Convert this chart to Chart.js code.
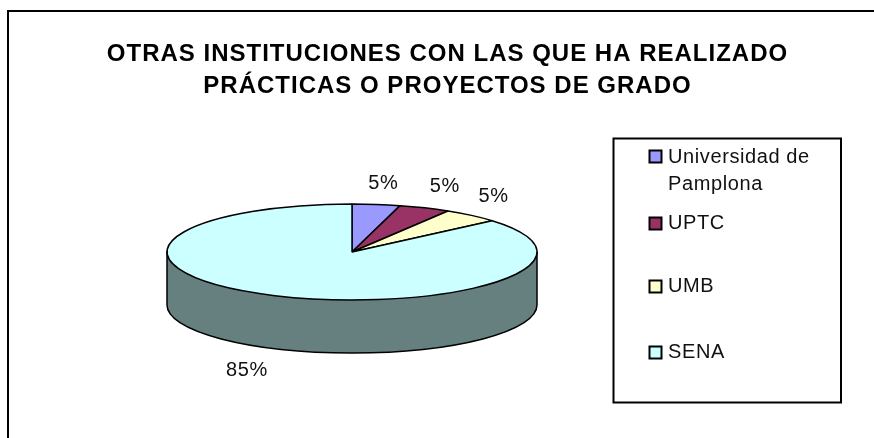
<!DOCTYPE html>
<html>
<head>
<meta charset="utf-8">
<script src="https://cdn.jsdelivr.net/npm/chart.js@4"></script>
<style>html,body{margin:0;padding:0;background:#fff}canvas{display:block}</style>
</head>
<body>
<canvas id="c" width="874" height="438"></canvas>
<script>
const titleLines = ['OTRAS INSTITUCIONES CON LAS QUE HA REALIZADO', 'PRÁCTICAS O PROYECTOS DE GRADO'];
const categories = ['Universidad de Pamplona', 'UPTC', 'UMB', 'SENA'];
const legendLines = [['Universidad de', 'Pamplona'], ['UPTC'], ['UMB'], ['SENA']];
const percentages = [5, 5, 5, 85];
const sliceColors = ['#9999FF', '#993366', '#FFFFCC', '#CCFFFF'];

const FONT = '"Liberation Sans", Arial, sans-serif';
const CX = 352, CY = 252, RX = 185, RY = 48, DEPTH = 53;
const WALL = '#668080';
const labelOffset = [[7, -21], [20, -21], [22, -19], [-28, 75]];
const legendBox = {x: 613.5, y: 138.5, w: 227.5, h: 264};
const legendRows = [{sw: 150, lines: [157, 184]}, {sw: 217, lines: [223]}, {sw: 280, lines: [286]}, {sw: 346, lines: [352]}];

const tilt = {
  id: 'tilt',
  afterDatasetsUpdate(chart) {
    // foreshortening of the 3-D view: far slices look narrower
    const squeeze = a => {
      const p = a + Math.PI / 2;
      return p - (5 * Math.PI / 180) * Math.sin(2 * p) - Math.PI / 2;
    };
    chart.getDatasetMeta(0).data.forEach(el => {
      const s = squeeze(el.startAngle), e = squeeze(el.endAngle);
      el.startAngle = s; el.endAngle = e; el.circumference = e - s;
    });
  },
  beforeDraw(chart) {
    const ctx = chart.ctx;
    ctx.save();
    ctx.fillStyle = '#fff';
    ctx.fillRect(0, 0, chart.width, chart.height);
    ctx.strokeStyle = '#000';
    ctx.lineWidth = 2;
    ctx.beginPath();
    ctx.moveTo(chart.width, 11); ctx.lineTo(8, 11); ctx.lineTo(8, chart.height);
    ctx.stroke();
    ctx.restore();
    ctx.letterSpacing = '1px';
  },
  afterLayout(chart) {
    chart.titleBlock.left = 21;
    chart.titleBlock.right = chart.width;
  },
  beforeDatasetsDraw(chart) {
    const ctx = chart.ctx;
    ctx.letterSpacing = '0px';
    // side wall of the disc
    ctx.save();
    ctx.fillStyle = WALL;
    ctx.strokeStyle = '#000';
    ctx.lineWidth = 1.5;
    ctx.beginPath();
    ctx.ellipse(CX, CY + DEPTH, RX, RY, 0, 0, Math.PI);
    ctx.lineTo(CX - RX, CY);
    ctx.lineTo(CX + RX, CY);
    ctx.closePath();
    ctx.fill();
    ctx.stroke();
    ctx.restore();
    // flatten the library's arcs into the top ellipse, keeping even strokes
    const el = chart.getDatasetMeta(0).data[0];
    ctx.save();
    ctx.translate(0, CY);
    ctx.scale(1, RY / RX);
    ctx.translate(0, -el.y);
    ctx.stroke = function () {
      CanvasRenderingContext2D.prototype.save.call(ctx);
      ctx.setTransform(1, 0, 0, 1, 0, 0);
      CanvasRenderingContext2D.prototype.stroke.call(ctx);
      CanvasRenderingContext2D.prototype.restore.call(ctx);
    };
  },
  afterDatasetsDraw(chart) {
    const ctx = chart.ctx;
    delete ctx.stroke;
    ctx.restore();
    ctx.save();
    // percentage labels
    ctx.fillStyle = '#111';
    ctx.font = '20px ' + FONT;
    ctx.letterSpacing = '0.6px';
    ctx.textAlign = 'center';
    ctx.textBaseline = 'middle';
    chart.getDatasetMeta(0).data.forEach((el, i) => {
      const mid = (el.startAngle + el.endAngle) / 2;
      const x = CX + RX * Math.cos(mid) + labelOffset[i][0];
      const y = CY + RY * Math.sin(mid) + labelOffset[i][1];
      ctx.fillText(percentages[i] + '%', x, y);
    });
    // legend
    ctx.strokeStyle = '#000';
    ctx.lineWidth = 2;
    ctx.fillStyle = '#fff';
    ctx.fillRect(legendBox.x, legendBox.y, legendBox.w, legendBox.h);
    ctx.strokeRect(legendBox.x, legendBox.y, legendBox.w, legendBox.h);
    ctx.textAlign = 'left';
    legendRows.forEach((row, i) => {
      ctx.fillStyle = sliceColors[i];
      ctx.fillRect(649.5, row.sw + 0.5, 12, 12);
      ctx.strokeRect(649.5, row.sw + 0.5, 12, 12);
      ctx.fillStyle = '#111';
      legendLines[i].forEach((t, j) => ctx.fillText(t, 668, row.lines[j]));
    });
    ctx.restore();
  }
};

new Chart(document.getElementById('c'), {
  type: 'pie',
  data: {
    labels: categories,
    datasets: [{
      data: percentages,
      backgroundColor: sliceColors,
      borderColor: '#000',
      borderWidth: 1.5,
      clip: false,
      radius: RX
    }]
  },
  options: {
    responsive: false,
    animation: false,
    devicePixelRatio: 1,
    layout: {padding: {left: 0, right: 170}},
    plugins: {
      legend: {display: false},
      tooltip: {enabled: false},
      title: {
        display: true,
        text: titleLines,
        color: '#000',
        font: {family: FONT, size: 24, weight: 'bold', lineHeight: 1.34},
        padding: {top: 38, bottom: 0}
      }
    }
  },
  plugins: [tilt]
});
</script>
</body>
</html>
